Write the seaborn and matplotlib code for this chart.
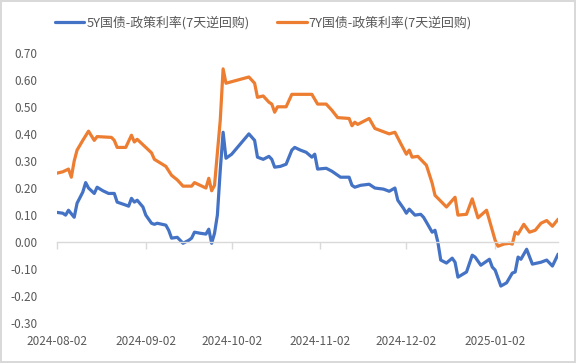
import pandas as pd
import numpy as np
import matplotlib
matplotlib.use("Agg")
import matplotlib.pyplot as plt
import matplotlib.dates as mdates
import seaborn as sns

# days counted from 2024-08-02
start = pd.Timestamp("2024-08-02")

days_5y = [0, 2, 3, 4, 6, 7, 9, 10, 11, 13, 14, 16, 18, 20, 21, 24, 25, 26, 27, 28,
           30, 31, 33, 34, 35, 38, 39, 40, 42, 44, 46, 47, 48, 50, 52, 53, 54, 55, 56, 57,
           58, 59, 61, 67, 69, 70, 72, 74, 75, 76, 78, 80, 82, 83, 85, 87, 89, 90, 91, 94,
           96, 99, 102, 103, 104, 106, 109, 111, 114, 116, 118, 119, 121, 122, 123, 125, 127, 128, 129, 131,
           132, 133, 134, 136, 138, 139, 140, 143, 145, 146, 148, 151, 152, 153, 155, 157, 159, 160, 161, 162,
           164, 166, 169, 171, 173, 175]
vals_5y = [0.11, 0.107, 0.10, 0.118, 0.092, 0.144, 0.185, 0.22, 0.20, 0.18, 0.203, 0.19, 0.18, 0.18, 0.148, 0.137, 0.133, 0.162, 0.148, 0.155,
           0.13, 0.10, 0.07, 0.066, 0.07, 0.063, 0.044, 0.015, 0.018, -0.004, 0.007, 0.015, 0.037, 0.033, 0.03, 0.048, -0.004, 0.033, 0.10, 0.266,
           0.406, 0.31, 0.325, 0.40, 0.376, 0.314, 0.306, 0.317, 0.306, 0.277, 0.28, 0.288, 0.34, 0.35, 0.34, 0.332, 0.314, 0.325, 0.27, 0.273,
           0.262, 0.24, 0.24, 0.21, 0.203, 0.21, 0.214, 0.20, 0.196, 0.188, 0.20, 0.155, 0.125, 0.107, 0.122, 0.10, 0.103, 0.092, 0.074, 0.037,
           0.044, 0.0, -0.066, -0.077, -0.059, -0.074, -0.129, -0.11, -0.048, -0.055, -0.085, -0.063, -0.092, -0.103, -0.162, -0.15, -0.114, -0.11, -0.055, -0.063,
           -0.026, -0.081, -0.074, -0.066, -0.088, -0.044]

days_7y = [0, 2, 4, 5, 6, 7, 9, 11, 13, 14, 19, 20, 21, 24, 26, 27, 28, 31, 33, 34,
           38, 40, 42, 44, 47, 48, 50, 52, 53, 54, 55, 57, 58, 59, 67, 69, 70, 72, 74, 75,
           76, 77, 80, 82, 85, 89, 91, 94, 96, 98, 102, 103, 104, 105, 109, 111, 116, 118, 120, 122,
           123, 124, 126, 128, 129, 131, 132, 136, 139, 140, 143, 145, 147, 150, 153, 154, 156, 158, 159, 160,
           161, 163, 165, 167, 169, 171, 173, 175]
vals_7y = [0.255, 0.26, 0.27, 0.24, 0.30, 0.34, 0.376, 0.41, 0.376, 0.39, 0.387, 0.376, 0.35, 0.35, 0.395, 0.37, 0.38, 0.35, 0.33, 0.306,
           0.28, 0.247, 0.23, 0.207, 0.207, 0.22, 0.21, 0.20, 0.236, 0.19, 0.21, 0.45, 0.64, 0.587, 0.61, 0.587, 0.535, 0.54, 0.517, 0.51,
           0.48, 0.50, 0.50, 0.546, 0.546, 0.546, 0.51, 0.51, 0.487, 0.46, 0.457, 0.43, 0.443, 0.435, 0.457, 0.42, 0.40, 0.406, 0.365, 0.325,
           0.34, 0.314, 0.317, 0.295, 0.284, 0.218, 0.173, 0.13, 0.166, 0.10, 0.103, 0.16, 0.09, 0.118, 0.007, -0.015, -0.007, -0.004, -0.007, 0.037,
           0.03, 0.066, 0.037, 0.044, 0.07, 0.08, 0.059, 0.085]

series_names = ["5Y国债-政策利率(7天逆回购)", "7Y国债-政策利率(7天逆回购)"]
colors = ["#4472C4", "#ED7D31"]
x_ticks = ["2024-08-02", "2024-09-02", "2024-10-02", "2024-11-02", "2024-12-02", "2025-01-02"]
y_ticks = [-0.30, -0.20, -0.10, 0.00, 0.10, 0.20, 0.30, 0.40, 0.50, 0.60, 0.70]

df = pd.concat([
    pd.DataFrame({"date": start + pd.to_timedelta(days_5y, unit="D"), "value": vals_5y, "series": series_names[0]}),
    pd.DataFrame({"date": start + pd.to_timedelta(days_7y, unit="D"), "value": vals_7y, "series": series_names[1]}),
])

sns.set_style("white")
plt.rcParams["font.family"] = ["Noto Sans CJK SC", "DejaVu Sans"]
grey = "#595959"
line_grey = "#d9d9d9"

fig = plt.figure(figsize=(5.76, 3.63), dpi=100, edgecolor=line_grey, linewidth=1.5)
ax = fig.add_axes([0.099, 0.109, 0.870, 0.746])

sns.lineplot(data=df, x="date", y="value", hue="series", palette=colors,
             estimator=None, sort=False, linewidth=2.3, ax=ax)

ax.set_ylim(-0.3, 0.7)
ax.set_xlim(start, start + pd.Timedelta(days=175))
ax.set_xlabel("")
ax.set_ylabel("")

# zero line with tick marks, labels kept at the bottom
tick_nums = mdates.date2num(pd.to_datetime(x_ticks))
for s in ["top", "right", "left"]:
    ax.spines[s].set_visible(False)
ax.spines["bottom"].set_position(("data", 0))
ax.spines["bottom"].set_color(line_grey)
ax.spines["bottom"].set_linewidth(1)
ax.set_xticks(tick_nums)
ax.tick_params(axis="x", bottom=True, length=5, width=1, color=line_grey, labelbottom=False)

sec = ax.secondary_xaxis(0)
sec.set_xticks(tick_nums, labels=x_ticks)
sec.spines["bottom"].set_visible(False)
sec.tick_params(axis="x", length=0, pad=8, labelsize=8.5, labelcolor=grey)

ax.set_yticks(y_ticks)
ax.set_yticklabels([f"{v:.2f}" for v in y_ticks])
ax.tick_params(axis="y", left=False, length=0, pad=14, labelsize=8.5, labelcolor=grey)
ax.grid(False)

handles, lbls = ax.get_legend_handles_labels()
ax.legend(handles, lbls, loc="center", bbox_to_anchor=(0.457, 0.937), bbox_transform=fig.transFigure,
          ncol=2, frameon=False, fontsize=9.3, handlelength=2.3, handletextpad=0.15,
          columnspacing=2.1, labelcolor=grey)

fig.savefig("out.png", dpi=100)
